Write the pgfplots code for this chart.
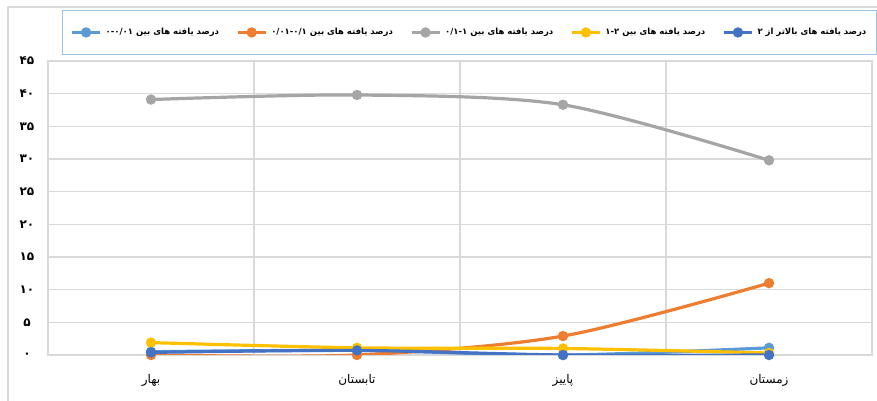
\documentclass[border=0pt]{standalone}
\usepackage{pgfplots}
\pgfplotsset{compat=1.18}
\usepackage{fontspec}
\setmainfont{DejaVu Sans}
\newfontfamily\arabicfont[Script=Arabic]{DejaVu Sans}
\TeXXeTstate=1
\definecolor{s1}{HTML}{5B9BD5}
\definecolor{s2}{HTML}{ED7D31}
\definecolor{s3}{HTML}{A5A5A5}
\definecolor{s4}{HTML}{FFC000}
\definecolor{s5}{HTML}{4472C4}
\definecolor{gridgray}{HTML}{D9D9D9}
\definecolor{legblue}{HTML}{9DC3E6}
\begin{document}
\begin{tikzpicture}[x=1pt,y=1pt]
\path[use as bounding box] (0,0) rectangle (877,401);
\draw[gridgray, line width=1.5pt] (8,0) -- (8,394) -- (877,394);
\begin{axis}[
  at={(48pt,46pt)}, anchor=south west,
  scale only axis, width=824pt, height=294pt,
  xmin=-0.5, xmax=3.5, ymin=0, ymax=45,
  xtick={0,1,2,3},
  xticklabels={{\arabicfont\beginR بهار\endR},{\arabicfont\beginR تابستان\endR},{\arabicfont\beginR پاییز\endR},{\arabicfont\beginR زمستان\endR}},
  xticklabel style={font=\arabicfont\fontsize{12}{14}\selectfont, yshift=-16pt},
  minor xtick={-0.5,0.5,1.5,2.5,3.5}, xminorgrids,
  ytick={0,5,10,15,20,25,30,35,40,45},
  yticklabels={۰,۵,۱۰,۱۵,۲۰,۲۵,۳۰,۳۵,۴۰,۴۵},
  yticklabel style={font=\arabicfont\bfseries\fontsize{12}{14}\selectfont, anchor=center, xshift=-21pt},
  ymajorgrids,
  major tick length=0pt, minor tick length=0pt,
  axis line style={draw=gridgray, line width=1.5pt},
  grid style={draw=gridgray, line width=1.2pt},
  minor grid style={draw=gridgray, line width=1.2pt},
  every axis plot/.append style={line width=3.2pt, smooth, mark=*, mark size=3.5pt},
  legend columns=5,
  legend style={at={(0.017,1.1735)}, anchor=north west, draw=legblue, line width=1pt,
    font=\arabicfont\bfseries\fontsize{8.5}{10}\selectfont, inner xsep=8pt, inner ysep=16pt,
    /tikz/every odd column/.append style={column sep=2pt},
    /tikz/every even column/.append style={column sep=15pt}},
  legend image code/.code={\draw[mark repeat=2,mark phase=2] plot coordinates {(0pt,0pt) (14pt,0pt) (28pt,0pt)};},
  legend cell align=left,
]
\addplot[color=s1, mark options={fill=s1}] coordinates {(0,0.5) (1,0.7) (2,0.0) (3,1.1)};
\addlegendentry{\beginR درصد یافته های بین \beginL ۰-۰/۰۱\endL\endR}
\addplot[color=s2, mark options={fill=s2}] coordinates {(0,0.0) (1,0.0) (2,2.9) (3,11.0)};
\addlegendentry{\beginR درصد یافته های بین \beginL ۰/۰۱-۰/۱\endL\endR}
\addplot[color=s3, mark options={fill=s3}] coordinates {(0,39.1) (1,39.8) (2,38.3) (3,29.8)};
\addlegendentry{\beginR درصد یافته های بین \beginL ۰/۱-۱\endL\endR}
\addplot[color=s4, mark options={fill=s4}] coordinates {(0,1.9) (1,1.1) (2,1.0) (3,0.3)};
\addlegendentry{\beginR درصد یافته های بین \beginL ۱-۲\endL\endR}
\addplot[color=s5, mark options={fill=s5}] coordinates {(0,0.4) (1,0.7) (2,0.0) (3,0.0)};
\addlegendentry{\beginR درصد یافته های بالاتر از \beginL ۲\endL\endR}
\end{axis}
\end{tikzpicture}
\end{document}
